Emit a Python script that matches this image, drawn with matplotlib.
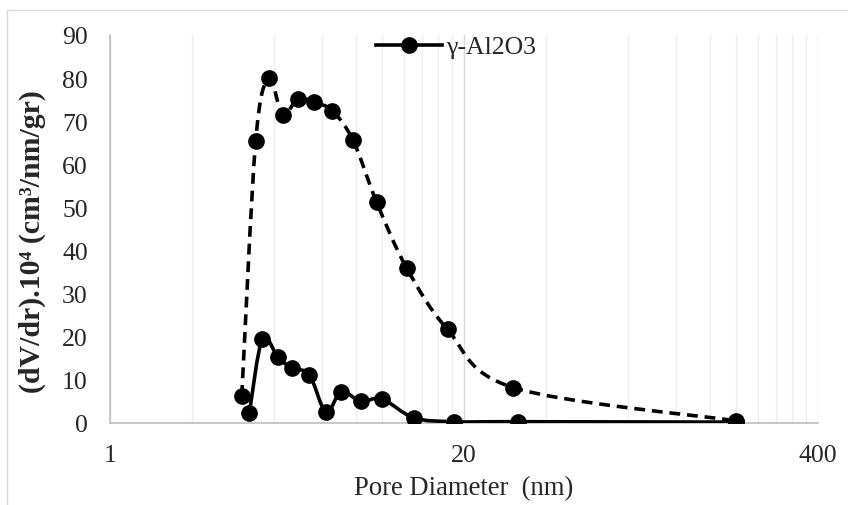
import numpy as np
import matplotlib
matplotlib.use("Agg")
import matplotlib.pyplot as plt
from matplotlib.path import Path
from matplotlib.patches import PathPatch
from matplotlib.lines import Line2D
from matplotlib.ticker import FixedLocator, NullFormatter

# ---- data ----
dashed_x = [3.05, 3.43, 3.84, 4.31, 4.90, 5.64, 6.56, 7.82, 9.55, 12.3, 17.4, 30.4, 200.0]
dashed_y = [6.3, 65.3, 80.0, 71.4, 75.2, 74.4, 72.4, 65.6, 51.2, 36.0, 21.7, 8.2, 0.5]
solid_x = [3.25, 3.63, 4.13, 4.65, 5.40, 6.22, 7.08, 8.35, 9.97, 13.1, 18.4, 31.5, 200.0]
solid_y = [2.25, 19.5, 15.4, 12.7, 11.2, 2.5, 7.3, 5.0, 5.6, 1.2, 0.3, 0.3, 0.2]
x_major = [1, 20, 400]
x_minor = [2, 4, 6, 8, 10, 12, 14, 16, 18, 40, 80, 120, 160, 200, 240, 280, 320, 360]
y_ticks = [0, 10, 20, 30, 40, 50, 60, 70, 80, 90]
series_label = "γ-Al2O3"
xlabel = "Pore Diameter  (nm)"
ylabel = "(dV/dr).10⁴ (cm³/nm/gr)"

SERIF = ["Liberation Serif", "DejaVu Serif"]
plt.rcParams["font.family"] = SERIF


def smooth_path(xs, ys):
    """Excel-like smoothed line: cubic Bezier control points in (log10 x, y) space."""
    u = np.log10(np.asarray(xs, float))
    v = np.asarray(ys, float)
    n = len(u)
    verts = [(xs[0], ys[0])]
    codes = [Path.MOVETO]
    for i in range(n - 1):
        im1 = max(i - 1, 0)
        ip2 = min(i + 2, n - 1)
        c1u = u[i] + (u[i + 1] - u[im1]) / 6.0
        c1v = v[i] + (v[i + 1] - v[im1]) / 6.0
        c2u = u[i + 1] - (u[ip2] - u[i]) / 6.0
        c2v = v[i + 1] - (v[ip2] - v[i]) / 6.0
        verts += [(10 ** c1u, c1v), (10 ** c2u, c2v), (xs[i + 1], ys[i + 1])]
        codes += [Path.CURVE4, Path.CURVE4, Path.CURVE4]
    return Path(verts, codes)


W, H = 848, 506
fig = plt.figure(figsize=(W / 100, H / 100), dpi=100)
ax = fig.add_axes([110 / W, (H - 424) / H, 708 / W, 388 / H])

ax.set_xscale("log")
ax.set_xlim(1, 400)
ax.set_ylim(0, 90)

lw = 2.6
dashed = PathPatch(smooth_path(dashed_x, dashed_y), facecolor="none", edgecolor="black",
                   lw=lw, linestyle=(0, (3.0, 1.9)), capstyle="butt", zorder=3)
ax.add_patch(dashed)
solid = PathPatch(smooth_path(solid_x, solid_y), facecolor="none", edgecolor="black",
                  lw=lw, linestyle="-", zorder=3, joinstyle="round")
ax.add_patch(solid)

ms = 11
ax.plot(dashed_x, dashed_y, linestyle="none", marker="o", ms=ms, color="black", zorder=4)
ax.plot(solid_x, solid_y, linestyle="none", marker="o", ms=ms, color="black", zorder=4)

# ticks and grid
ax.xaxis.set_major_locator(FixedLocator(x_major))
ax.xaxis.set_minor_locator(FixedLocator(x_minor))
ax.xaxis.set_minor_formatter(NullFormatter())
ax.set_xticklabels([str(t) for t in x_major])
ax.set_yticks(y_ticks)
ax.set_yticklabels([str(t) for t in y_ticks])
ax.grid(True, which="major", axis="x", color="#D9D9D9", lw=1.0, zorder=0)
ax.grid(True, which="minor", axis="x", color="#EEEEEE", lw=1.0, zorder=0)
ax.tick_params(axis="both", which="both", length=0, labelsize=18.5, colors="#262626")
ax.tick_params(axis="x", pad=15)
ax.tick_params(axis="y", pad=16)
for side in ("top", "right"):
    ax.spines[side].set_visible(False)
for side in ("left", "bottom"):
    ax.spines[side].set_color("#BFBFBF")
    ax.spines[side].set_linewidth(1.2)

ax.set_xlabel(xlabel, fontsize=19.2, color="#262626", labelpad=7)
ax.set_ylabel(ylabel, fontsize=21.5, fontweight="bold", color="#262626", labelpad=9)
ax.yaxis.set_label_coords(-0.09, 0.47)

handle = Line2D([], [], color="black", lw=lw, marker="o", ms=ms)
leg = fig.legend([handle], [series_label], loc="center", bbox_to_anchor=(456 / W, 1 - 48 / H),
                 frameon=False, fontsize=18.5, handlelength=2.6, handletextpad=0.15,
                 borderpad=0, borderaxespad=0)
for t in leg.get_texts():
    t.set_color("#262626")

# chart-area border
fig.add_artist(Line2D([7 / W, 7 / W], [0, 1 - 11 / H], transform=fig.transFigure,
                      color="#D9D9D9", lw=1.0))
fig.add_artist(Line2D([7 / W, 1], [1 - 11 / H, 1 - 11 / H], transform=fig.transFigure,
                      color="#D9D9D9", lw=1.0))

fig.savefig("out.png", dpi=100)
